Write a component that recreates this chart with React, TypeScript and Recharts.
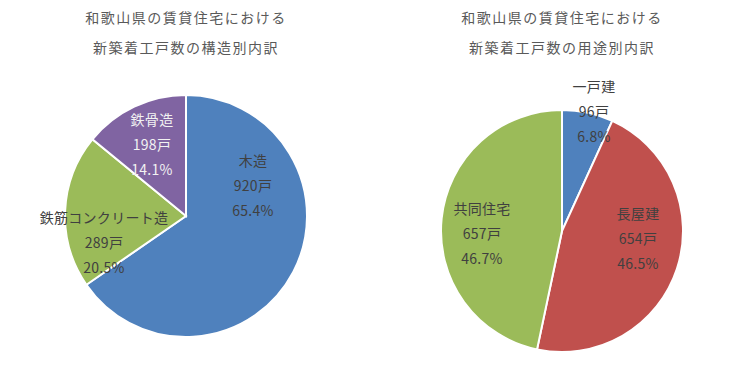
import React from 'react';
import { PieChart, Pie, Cell } from 'recharts';

// Data: new rental housing starts in Wakayama
const structureNames = ['木造', '鉄筋コンクリート造', '鉄骨造'];
const structureValues = [920, 289, 198];

const usageNames = ['一戸建', '長屋建', '共同住宅'];
const usageValues = [96, 654, 657];

const leftTitle = ['和歌山県の賃貸住宅における', '新築着工戸数の構造別内訳'];
const rightTitle = ['和歌山県の賃貸住宅における', '新築着工戸数の用途別内訳'];

// Styling / layout
const structureColors = ['#4F81BD', '#9BBB59', '#8064A2'];
const usageColors = ['#4F81BD', '#C0504D', '#9BBB59'];
const structureLabelColors = ['#404040', '#404040', '#F2F2F2'];
const usageLabelColors = ['#404040', '#404040', '#404040'];
// label offsets (middle line) from pie centre
const structureLabelOffsets = [
  [67, -31],
  [-82, 26],
  [-34, -72],
];
const usageLabelOffsets = [
  [32, -120],
  [76, 7],
  [-80, 2],
];

const FONT = '"Noto Sans CJK JP", "Noto Sans", sans-serif';

const structureData = structureNames.map((name, i) => ({ name, value: structureValues[i] }));
const usageData = usageNames.map((name, i) => ({ name, value: usageValues[i] }));

function makeLabel(offsets: number[][], colors: string[]) {
  return (props: any) => {
    const { cx, cy, index, name, value, percent } = props;
    const [dx, dy] = offsets[index];
    const x = cx + dx;
    const y = cy + dy;
    return (
      <text
        x={x}
        y={y}
        textAnchor="middle"
        dominantBaseline="central"
        fill={colors[index]}
        fontSize={14}
        fontFamily={FONT}
        letterSpacing={0.3}
      >
        <tspan x={x} y={y - 25}>{name}</tspan>
        <tspan x={x} y={y}>{`${value}戸`}</tspan>
        <tspan x={x} y={y + 25}>{`${(percent * 100).toFixed(1)}%`}</tspan>
      </text>
    );
  };
}

function Title({ lines, center }: { lines: string[]; center: number }) {
  return (
    <div
      style={{
        position: 'absolute',
        left: center - 150,
        top: 2,
        width: 300,
        textAlign: 'center',
        fontFamily: FONT,
        fontSize: 14,
        letterSpacing: 1.5,
        color: '#595959',
        lineHeight: '30px',
      }}
    >
      {lines.map((l, i) => (
        <div key={i}>{l}</div>
      ))}
    </div>
  );
}

export default function App() {
  return (
    <div
      style={{
        position: 'fixed',
        left: 0,
        top: 0,
        width: 746,
        height: 369,
        background: '#fff',
      }}
    >
      <PieChart width={746} height={369} margin={{ top: 0, right: 0, bottom: 0, left: 0 }}>
        <Pie
          data={structureData}
          dataKey="value"
          nameKey="name"
          cx={186}
          cy={216}
          outerRadius={121}
          startAngle={90}
          endAngle={-270}
          stroke="#fff"
          strokeWidth={2}
          labelLine={false}
          label={makeLabel(structureLabelOffsets, structureLabelColors)}
          isAnimationActive={false}
        >
          {structureData.map((_, i) => (
            <Cell key={i} fill={structureColors[i]} />
          ))}
        </Pie>
        <Pie
          data={usageData}
          dataKey="value"
          nameKey="name"
          cx={562}
          cy={231}
          outerRadius={121}
          startAngle={90}
          endAngle={-270}
          stroke="#fff"
          strokeWidth={2}
          labelLine={false}
          label={makeLabel(usageLabelOffsets, usageLabelColors)}
          isAnimationActive={false}
        >
          {usageData.map((_, i) => (
            <Cell key={i} fill={usageColors[i]} />
          ))}
        </Pie>
      </PieChart>
      <Title lines={leftTitle} center={186} />
      <Title lines={rightTitle} center={562} />
    </div>
  );
}
